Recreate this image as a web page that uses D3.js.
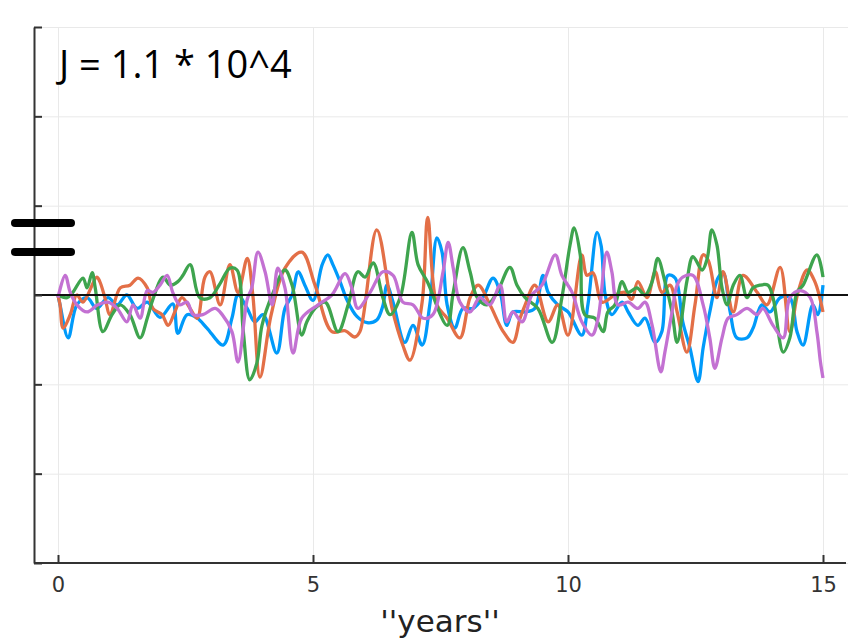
<!DOCTYPE html>
<html lang="en">
  <head>
    <meta charset="utf-8">
    <title>years</title>
    <style>
      body, html { margin:0; padding:0; background:#fff; }
      svg { display:block; }
      .grid line { stroke:#e9e9e9; stroke-width:1; }
      .grid path { display:none; }
      .axis path, .axis line { stroke:#333; stroke-width:2; }
      .axis text { font-family:"DejaVu Sans", sans-serif; font-size:21px; fill:#333; }
    </style>
    <script src="https://cdn.jsdelivr.net/npm/d3@7"></script>
  </head>
  <body>
    <svg id="chart" width="848" height="642"></svg>
<script>
// values, [year, value]
var blueSeries = [[0,0],[0.04,-0.11],[0.2,-0.48],[0.37,-0.11],[0.57,-0.03],[0.76,-0.15],[0.98,-0.03],[1.16,-0.11],[1.35,0],[1.55,-0.15],[1.75,-0.08],[2.0,-0.25],[2.25,-0.1],[2.35,-0.43],[2.53,-0.22],[2.73,-0.26],[2.92,-0.37],[3.24,-0.56],[3.41,-0.26],[3.53,0],[3.71,-0.15],[3.86,-0.3],[4.02,-0.22],[4.29,-0.65],[4.45,-0.15],[4.59,0],[4.71,0.26],[4.84,0.11],[5.0,-0.06],[5.18,0.34],[5.29,0.45],[5.39,0.34],[5.53,0.15],[5.67,-0.06],[5.86,-0.24],[6.06,-0.31],[6.25,-0.28],[6.37,-0.12],[6.45,0.11],[6.57,-0.08],[6.8,-0.53],[6.96,-0.34],[7.14,-0.56],[7.29,-0.11],[7.43,0.64],[7.53,0.48],[7.63,-0.11],[7.78,-0.37],[7.94,-0.15],[8.14,-0.15],[8.33,-0.03],[8.53,0.19],[8.67,0.03],[8.8,-0.34],[8.92,-0.19],[9.16,-0.19],[9.35,-0.15],[9.51,0.22],[9.61,0.03],[9.8,-0.11],[10.0,-0.19],[10.27,-0.45],[10.39,-0.11],[10.57,0.7],[10.65,0.55],[10.73,0],[10.86,-0.22],[11.06,-0.08],[11.18,-0.19],[11.37,-0.34],[11.51,-0.26],[11.71,-0.53],[11.84,-0.41],[11.96,0.22],[12.1,0.19],[12.25,-0.3],[12.39,-0.59],[12.55,-0.97],[12.65,-0.59],[12.78,-0.19],[12.94,0.19],[13.04,0.25],[13.18,-0.19],[13.31,-0.48],[13.51,-0.48],[13.63,-0.37],[13.8,-0.11],[13.96,-0.19],[14.16,-0.03],[14.35,-0.03],[14.49,-0.41],[14.61,-0.56],[14.8,-0.11],[14.9,-0.22],[15.0,0.11]];

var orangeSeries = [[0,0],[0.04,-0.11],[0.1,-0.37],[0.24,-0.22],[0.37,0],[0.49,-0.08],[0.76,0.2],[0.82,0.15],[0.92,-0.03],[1.02,-0.22],[1.22,0.08],[1.41,0.11],[1.57,0.19],[1.75,0.08],[1.86,-0.15],[2.04,-0.22],[2.16,-0.34],[2.29,-0.19],[2.43,-0.03],[2.59,-0.15],[2.73,-0.26],[2.88,0.2],[2.98,0.26],[3.18,-0.11],[3.37,0.34],[3.53,0.03],[3.71,0.41],[3.82,0],[3.96,-0.92],[4.18,-0.22],[4.45,0.3],[4.78,0.48],[5.04,0.11],[5.37,-0.41],[5.63,-0.4],[5.82,-0.47],[5.92,-0.41],[6.25,0.73],[6.55,-0.15],[6.76,-0.56],[6.9,-0.73],[7.14,-0.08],[7.25,0.87],[7.43,-0.11],[7.63,-0.26],[7.88,-0.48],[8.08,-0.03],[8.24,0.11],[8.47,-0.11],[8.73,-0.41],[8.92,-0.53],[9.06,-0.26],[9.16,-0.11],[9.35,0.11],[9.61,-0.3],[9.8,-0.11],[10.0,-0.45],[10.27,0.45],[10.37,0.22],[10.49,0.25],[10.67,-0.08],[10.92,0],[11.12,0.03],[11.25,-0.05],[11.37,0.15],[11.55,-0.03],[11.71,0.26],[11.84,0.03],[12.0,0.11],[12.14,-0.19],[12.33,-0.64],[12.49,-0.11],[12.65,0.45],[12.75,0.39],[12.92,-0.03],[13.04,0.26],[13.24,-0.19],[13.43,0.22],[13.71,0.03],[13.9,-0.11],[14.16,0.31],[14.35,-0.41],[14.51,0.03],[14.69,0.28],[14.84,0.15],[15.0,-0.19]];

var greenSeries = [[0,0],[0.18,-0.03],[0.29,0.03],[0.49,0.19],[0.57,0.08],[0.67,0.25],[0.73,0.08],[0.88,-0.41],[1.06,-0.22],[1.22,-0.11],[1.41,-0.22],[1.61,-0.48],[1.75,-0.26],[1.86,-0.05],[2.06,0.2],[2.2,0.11],[2.35,0.15],[2.45,0.22],[2.59,0.34],[2.78,-0.03],[2.98,-0.03],[3.18,0.13],[3.37,0.3],[3.51,0.28],[3.63,-0.39],[3.76,-0.95],[3.9,-0.76],[4.0,-0.34],[4.2,0],[4.45,0.28],[4.59,0.11],[4.78,-0.45],[4.88,-0.3],[5.04,-0.15],[5.24,-0.08],[5.49,-0.41],[5.69,-0.11],[5.88,0.26],[6.02,0.2],[6.18,0.36],[6.37,-0.03],[6.51,-0.22],[6.71,-0.03],[6.94,0.7],[7.06,0.34],[7.24,0.15],[7.63,-0.34],[7.75,0.03],[7.94,0.53],[8.08,0.26],[8.22,-0.03],[8.41,-0.11],[8.61,0.03],[8.86,0.31],[9.0,0.11],[9.16,-0.03],[9.41,-0.15],[9.69,-0.53],[9.88,-0.03],[10.04,0.56],[10.12,0.75],[10.24,0.45],[10.33,-0.22],[10.53,-0.26],[10.69,-0.41],[10.78,-0.19],[10.92,-0.11],[11.06,0.15],[11.18,0.03],[11.35,0.08],[11.51,0],[11.65,0.15],[11.76,0.41],[11.9,0.15],[12.04,-0.19],[12.14,-0.53],[12.33,0.15],[12.45,0.43],[12.63,0.28],[12.73,0.41],[12.82,0.73],[12.92,0.56],[13.02,0.08],[13.12,-0.11],[13.24,0.11],[13.37,0.22],[13.51,-0.03],[13.63,0.08],[13.76,0.11],[13.92,0.11],[14.02,-0.03],[14.22,-0.64],[14.35,-0.48],[14.49,0.03],[14.61,0.11],[14.88,0.45],[15.0,0.2]];

var purpleSeries = [[0,-0.03],[0.14,0.22],[0.24,0.03],[0.37,-0.11],[0.57,-0.19],[0.78,-0.11],[0.98,-0.08],[1.16,-0.15],[1.35,-0.3],[1.47,-0.11],[1.61,-0.26],[1.75,0.05],[1.86,0.03],[2.0,0.11],[2.14,0.22],[2.25,0.03],[2.39,-0.11],[2.53,-0.08],[2.65,-0.22],[2.84,-0.22],[3.08,-0.15],[3.22,-0.22],[3.41,-0.41],[3.53,-0.75],[3.71,-0.05],[3.8,0.08],[3.92,0.48],[4.06,0.26],[4.2,-0.11],[4.31,0.3],[4.45,0.08],[4.61,-0.65],[4.78,-0.26],[5.1,-0.11],[5.37,0],[5.63,0.24],[5.76,0.08],[5.88,-0.15],[6.12,0.03],[6.37,0.26],[6.57,0.22],[6.76,-0.08],[6.96,-0.11],[7.16,-0.26],[7.35,-0.22],[7.55,0.26],[7.65,0.59],[7.75,0.3],[7.88,-0.08],[8.08,-0.19],[8.27,-0.03],[8.47,-0.11],[8.67,0.11],[8.8,-0.3],[8.92,-0.19],[9.1,-0.3],[9.29,0],[9.49,0.11],[9.75,0.45],[9.88,0.22],[10.08,0.03],[10.27,-0.3],[10.47,-0.45],[10.59,-0.26],[10.76,0.48],[10.86,0.26],[10.98,-0.11],[11.18,-0.08],[11.37,-0.15],[11.51,-0.08],[11.65,-0.34],[11.82,-0.86],[11.9,-0.64],[12.04,-0.19],[12.14,0.11],[12.25,0.2],[12.45,0.22],[12.65,-0.11],[12.78,-0.48],[12.88,-0.82],[13.02,-0.48],[13.14,-0.26],[13.31,-0.22],[13.51,-0.15],[13.71,-0.22],[13.82,-0.15],[14.02,-0.34],[14.22,-0.48],[14.35,-0.03],[14.55,0.05],[14.75,-0.03],[14.88,-0.41],[14.95,-0.75],[15.0,-0.93]];

var seriesList = [blueSeries, orangeSeries, greenSeries, purpleSeries];
var seriesColors = ['#009AFA', '#E36F47', '#3EA44E', '#C371D2'];
var xTicks = [0, 5, 10, 15];
var yTicks = [-3, -2, -1, 0, 1, 2, 3];
var xLabel = "''years''";
var note = 'J = 1.1 * 10^4';

var svg = d3.select('#chart');
var pLeft = 34, pRight = 846, pTop = 27, pBottom = 563;

var x = d3.scaleLinear().domain([0, 15]).range([58, 823]);
var y = d3.scaleLinear().domain([-3, 3]).range([pBottom, pTop]);

// grid
svg.append('g').attr('class', 'grid')
  .attr('transform', 'translate(0,' + pBottom + ')')
  .call(d3.axisBottom(x).tickValues(xTicks).tickSize(-(pBottom - pTop)).tickFormat(''));
svg.append('g').attr('class', 'grid')
  .attr('transform', 'translate(' + pLeft + ',0)')
  .call(d3.axisLeft(y).tickValues(yTicks).tickSize(-(848 - pLeft)).tickFormat(''));

// series
var line = d3.line()
  .x(function(d) { return x(d[0]); })
  .y(function(d) { return y(d[1]); })
  .curve(d3.curveCatmullRom.alpha(0.5));

svg.append('g').selectAll('path')
  .data(seriesList)
  .enter().append('path')
  .attr('d', line)
  .attr('fill', 'none')
  .attr('stroke', function(d, i) { return seriesColors[i]; })
  .attr('stroke-width', 3.3)
  .attr('stroke-linejoin', 'round');

// zero line
svg.append('line')
  .attr('x1', pLeft).attr('x2', 848)
  .attr('y1', y(0)).attr('y2', y(0))
  .attr('stroke', '#111').attr('stroke-width', 2);

// axes, ticks pointing inward
var xAxis = svg.append('g').attr('class', 'axis')
  .attr('transform', 'translate(0,' + pBottom + ')')
  .call(d3.axisBottom(x).tickValues(xTicks).tickSize(-8).tickPadding(14).tickSizeOuter(0));
xAxis.select('.domain').attr('d', 'M' + pLeft + ',0H' + pRight);

var yAxis = svg.append('g').attr('class', 'axis')
  .attr('transform', 'translate(' + pLeft + ',0)')
  .call(d3.axisLeft(y).tickValues(yTicks).tickSize(-8).tickSizeOuter(0).tickFormat(''));

svg.append('text')
  .attr('x', (pLeft + pRight) / 2).attr('y', 632)
  .attr('text-anchor', 'middle')
  .style('font-family', '"DejaVu Sans", sans-serif')
  .style('font-size', '31px')
  .style('fill', '#222')
  .text(xLabel);

// annotation added on top of the plot
svg.append('text')
  .attr('x', 59).attr('y', 78)
  .style('font-family', '"Open Sans", sans-serif')
  .style('font-size', '38px')
  .style('fill', '#000')
  .text(note);

svg.selectAll('.eq')
  .data([223, 252])
  .enter().append('line')
  .attr('x1', 15).attr('x2', 71)
  .attr('y1', function(d) { return d; }).attr('y2', function(d) { return d; })
  .attr('stroke', '#000').attr('stroke-width', 8).attr('stroke-linecap', 'round');
</script>
  </body>
</html>
